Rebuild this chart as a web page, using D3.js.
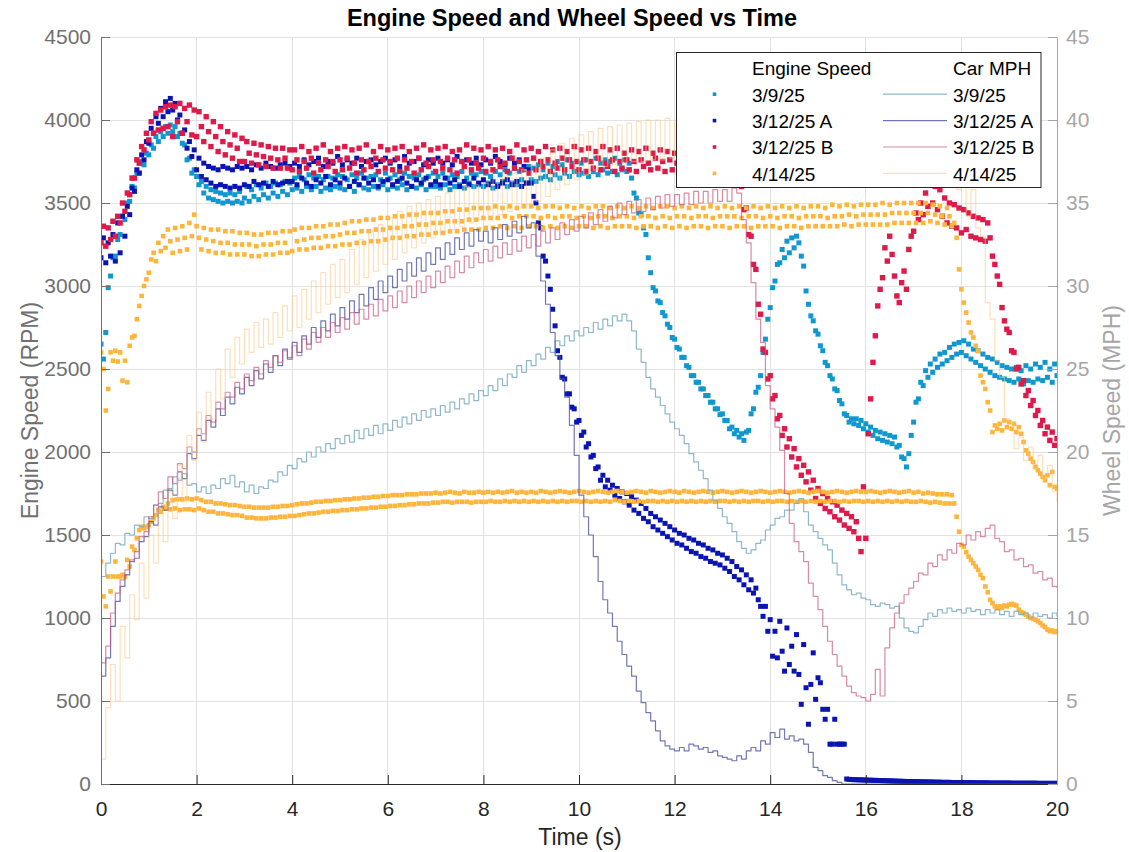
<!DOCTYPE html>
<html>
<head>
<meta charset="utf-8">
<script src="https://cdn.jsdelivr.net/npm/d3@7"></script>
<style>
  body { margin: 0; background: #ffffff; }
  svg { display: block; font-family: "Liberation Sans", Arial, Helvetica, sans-serif; }
</style>
</head>
<body>
<svg id="chart" width="1129" height="852"></svg>
<script>
// ---- sampling ----
const engineStep = 0.05;   // s between engine speed samples
const wheelStep = 0.1;     // s between wheel speed samples

// ---- axis ticks ----
const timeTicks = [0, 2, 4, 6, 8, 10, 12, 14, 16, 18, 20];
const rpmTicks = [0, 500, 1000, 1500, 2000, 2500, 3000, 3500, 4000, 4500];
const mphTicks = [0, 5, 10, 15, 20, 25, 30, 35, 40, 45];

// ---- run names and legend headers ----
const runNames = ["3/9/25", "3/12/25 A", "3/12/25 B", "4/14/25"];
const legendHeaders = ["Engine Speed", "Car MPH"];

// ---- engine speed (RPM), one value per 0.05 s, one line per second ----
const rpm0309 = [
2650,2560,2720,2990,3060,3170,3180,3280,3310,3420,3400,3500,3510,3600,3590,3680,3680,3750,3730,3800,
3790,3850,3830,3900,3870,3930,3900,3960,3920,3970,3930,3960,3900,3920,3860,3850,3760,3770,3680,3700,
3660,3610,3630,3560,3600,3530,3580,3520,3570,3510,3560,3500,3550,3510,3560,3500,3550,3510,3570,3500,
3530,3600,3510,3580,3540,3610,3520,3590,3550,3620,3530,3600,3560,3620,3540,3610,3570,3630,3550,3620,
3580,3650,3590,3660,3570,3640,3600,3670,3580,3650,3600,3660,3570,3640,3590,3660,3580,3650,3600,3670,
3590,3660,3580,3640,3600,3670,3570,3650,3610,3680,3590,3650,3580,3660,3600,3670,3590,3640,3610,3680,
3580,3650,3600,3670,3590,3640,3610,3680,3580,3660,3600,3650,3590,3670,3610,3640,3580,3660,3600,3680,
3600,3660,3590,3680,3610,3650,3580,3670,3600,3660,3610,3690,3590,3650,3620,3680,3600,3670,3610,3690,
3600,3680,3620,3660,3590,3690,3610,3670,3630,3700,3600,3680,3620,3710,3610,3690,3640,3700,3620,3720,
3640,3710,3630,3730,3650,3700,3660,3740,3640,3720,3670,3750,3650,3730,3680,3760,3660,3740,3690,3750,
3670,3740,3680,3760,3660,3750,3690,3770,3670,3740,3700,3760,3680,3750,3690,3770,3670,3740,3700,3760,
3690,3740,3650,3560,3530,3440,3430,3350,3310,3170,3080,2990,2970,2910,2900,2840,2820,2770,2750,2690,
2680,2630,2620,2570,2570,2520,2510,2460,2460,2420,2420,2380,2380,2340,2340,2300,2300,2260,2260,2225,
2230,2190,2190,2140,2150,2110,2130,2090,2110,2070,2120,2130,2230,2260,2360,2390,2460,2600,2680,2800,
2870,2990,3030,3130,3140,3220,3170,3270,3200,3290,3230,3300,3260,3180,3120,2970,2890,2820,2790,2730,
2710,2640,2610,2540,2520,2460,2440,2380,2370,2310,2290,2230,2220,2180,2200,2170,2200,2160,2190,2140,
2170,2120,2150,2100,2130,2080,2120,2070,2110,2060,2100,2050,2090,2030,2040,1970,1960,1910,1990,2100,
2180,2300,2320,2420,2400,2490,2450,2530,2480,2560,2510,2590,2530,2600,2550,2630,2570,2650,2590,2660,
2600,2670,2580,2650,2560,2620,2540,2610,2520,2590,2500,2570,2480,2560,2460,2540,2450,2520,2440,2510,
2430,2500,2420,2510,2440,2490,2410,2520,2430,2500,2420,2530,2440,2510,2430,2540,2450,2500,2420,2530,2460
];

const rpm0312A = [
3170,3290,3140,3260,3180,3310,3150,3380,3200,3420,3300,3480,3430,3590,3570,3700,3680,3790,3760,3870,
3860,3950,3920,4020,3980,4070,4020,4110,4050,4130,4060,4100,4000,4030,3920,3940,3830,3870,3780,3820,
3700,3770,3660,3740,3640,3720,3620,3710,3600,3700,3610,3720,3600,3710,3590,3700,3600,3720,3590,3710,
3610,3720,3600,3700,3630,3730,3610,3710,3620,3740,3600,3720,3630,3710,3610,3730,3620,3740,3630,3720,
3630,3740,3610,3720,3650,3760,3620,3730,3600,3750,3640,3770,3620,3720,3660,3750,3610,3740,3640,3780,
3620,3730,3650,3760,3600,3740,3630,3770,3610,3720,3650,3750,3620,3760,3640,3730,3600,3750,3630,3770,
3640,3740,3610,3760,3630,3720,3650,3780,3620,3740,3600,3750,3640,3770,3620,3730,3650,3760,3610,3740,
3630,3770,3610,3740,3650,3760,3620,3730,3640,3780,3600,3750,3630,3760,3610,3740,3650,3770,3620,3730,
3640,3760,3610,3740,3630,3780,3600,3750,3620,3730,3640,3770,3610,3740,3630,3760,3600,3720,3620,3700,
3620,3540,3500,3380,3350,3180,3150,3060,2980,2860,2760,2610,2570,2450,2440,2350,2350,2270,2260,2180,
2190,2100,2120,2030,2050,1970,1980,1900,1910,1830,1860,1790,1830,1770,1800,1740,1780,1720,1760,1700,
1750,1680,1730,1650,1710,1630,1690,1600,1660,1580,1630,1550,1610,1530,1590,1510,1570,1490,1550,1470,
1530,1450,1510,1440,1500,1420,1480,1400,1470,1390,1450,1370,1440,1360,1420,1340,1410,1330,1390,1320,
1380,1300,1360,1280,1340,1250,1310,1230,1290,1200,1260,1170,1230,1150,1180,1110,1070,1010,1070,920,
990,770,920,760,980,800,680,940,720,830,680,900,660,480,840,580,360,600,790,510,
640,610,450,390,450,240,240,390,240,240,240,240,30,28,27,26,26,25,25,24,
24,23,23,22,22,21,21,20,20,19,19,18,18,17,17,16,16,15,15,15,
14,14,14,13,13,13,12,12,12,11,11,11,10,10,10,10,9,9,9,9,
9,8,8,8,8,8,7,7,7,7,7,7,6,6,6,6,6,6,6,6,
6,5,5,5,5,5,5,5,5,5,5,5,4,4,4,4,4,4,4,4,4
];

const rpm0312B = [
3260,3360,3240,3350,3280,3390,3300,3420,3380,3500,3450,3560,3550,3650,3650,3760,3740,3840,3820,3920,
3880,3990,3920,4040,3940,4060,3950,4080,3960,4090,3900,4080,3990,4100,3920,4070,3990,4090,3910,4060,
3900,4050,3960,3870,4020,3930,3840,3990,3900,3810,3960,3870,3790,3930,3850,3770,3910,3830,3750,3890,
3750,3870,3800,3740,3860,3790,3730,3850,3780,3720,3840,3770,3710,3830,3760,3710,3830,3770,3710,3820,
3700,3820,3760,3690,3840,3750,3710,3810,3770,3680,3830,3740,3700,3850,3760,3720,3810,3750,3690,3830,
3760,3700,3840,3770,3710,3820,3740,3680,3830,3760,3700,3850,3750,3720,3810,3770,3690,3840,3760,3710,
3820,3750,3700,3830,3770,3690,3840,3760,3710,3810,3750,3680,3830,3770,3700,3850,3740,3720,3820,3760,
3690,3830,3750,3710,3840,3770,3700,3810,3760,3680,3820,3750,3720,3850,3760,3700,3830,3740,3710,3820,
3770,3690,3840,3750,3700,3820,3760,3720,3830,3740,3690,3810,3770,3710,3850,3750,3700,3820,3760,3680,
3830,3770,3700,3810,3750,3720,3840,3760,3690,3820,3740,3710,3830,3770,3700,3810,3760,3720,3840,3750,
3700,3820,3760,3690,3830,3750,3710,3810,3770,3700,3840,3740,3720,3820,3760,3690,3830,3750,3710,3800,
3760,3700,3820,3750,3690,3810,3760,3720,3830,3740,3700,3800,3770,3710,3820,3750,3690,3810,3760,3700,
3800,3740,3690,3810,3760,3700,3790,3750,3710,3820,3740,3690,3800,3760,3700,3790,3750,3710,3800,3740,
3800,3700,3770,3690,3740,3680,3720,3610,3600,3460,3470,3310,3300,3130,3100,2890,2830,2620,2600,2440,
2460,2320,2340,2200,2220,2100,2140,2030,2080,1970,2020,1910,1960,1860,1920,1820,1880,1770,1830,1720,
1780,1690,1750,1660,1720,1640,1700,1610,1680,1590,1650,1560,1630,1540,1610,1520,1580,1480,1400,1790,
1480,2110,2320,2540,2700,2880,2980,3050,3230,3150,3300,3190,3060,2940,2900,3020,3090,2980,3220,3300,
3330,3440,3400,3500,3430,3560,3480,3610,3500,3600,3460,3580,3420,3530,3380,3500,3360,3490,3350,3470,
3320,3460,3340,3440,3300,3420,3290,3410,3280,3400,3270,3380,3290,3180,3130,3060,3010,2870,2790,2740,
2720,2610,2600,2500,2510,2410,2430,2340,2370,2280,2310,2220,2250,2160,2190,2110,2150,2070,2120,2040,2080
];

// 4/14/25 tach reads on two levels; upper and lower tracks
const rpm0414hi = [
2600,2500,2250,2380,2600,2550,2610,2545,2600,2430,2550,2420,2640,2690,2700,2800,2880,2940,3000,3040,
3080,3160,3200,3150,3260,3210,3300,3230,3340,3270,3200,3350,3280,3210,3360,3290,3220,3380,3300,3430,
3360,3290,3220,3350,3280,3210,3340,3270,3200,3340,3260,3200,3330,3260,3190,3330,3250,3190,3320,3250,
3190,3320,3250,3180,3310,3240,3180,3310,3250,3190,3320,3250,3190,3320,3260,3200,3330,3260,3200,3330,
3210,3340,3270,3220,3350,3280,3220,3350,3290,3230,3360,3290,3230,3360,3300,3240,3370,3300,3240,3370,
3310,3250,3380,3320,3250,3390,3320,3260,3390,3330,3260,3400,3330,3270,3400,3340,3270,3410,3340,3280,
3410,3350,3290,3420,3350,3290,3420,3360,3300,3430,3360,3300,3430,3370,3310,3440,3370,3310,3440,3380,
3320,3440,3380,3320,3450,3390,3330,3450,3390,3330,3460,3390,3340,3460,3400,3340,3470,3400,3340,3470,
3410,3350,3470,3410,3350,3480,3410,3360,3470,3420,3350,3480,3410,3360,3470,3420,3350,3480,3420,3360,
3480,3420,3360,3470,3410,3350,3480,3420,3360,3480,3410,3350,3470,3420,3360,3480,3420,3350,3470,3410,
3360,3480,3420,3360,3470,3410,3350,3480,3420,3360,3480,3420,3350,3470,3410,3360,3480,3420,3360,3470,
3420,3360,3480,3410,3350,3470,3420,3360,3480,3420,3360,3470,3410,3350,3480,3420,3360,3480,3410,3350,
3470,3420,3360,3480,3420,3350,3470,3410,3360,3480,3420,3360,3470,3420,3350,3480,3410,3360,3470,3420,
3360,3480,3420,3350,3470,3420,3360,3480,3410,3360,3470,3420,3350,3480,3420,3360,3470,3410,3360,3480,
3420,3360,3470,3410,3350,3480,3420,3360,3470,3420,3360,3480,3410,3350,3470,3420,3360,3480,3420,3360,
3480,3420,3360,3470,3410,3360,3490,3420,3360,3480,3420,3370,3490,3430,3360,3480,3420,3370,3490,3430,
3370,3490,3430,3370,3490,3430,3370,3500,3430,3370,3490,3440,3380,3500,3440,3380,3500,3440,3380,3500,
3440,3380,3500,3440,3380,3500,3440,3390,3490,3430,3380,3480,3420,3370,3470,3420,3360,3380,3290,3100,
2980,2900,2840,2780,2720,2690,2640,2610,2460,2420,2380,2300,2250,2120,2160,2140,2170,2130,2190,2150,
2180,2140,2170,2120,2150,2110,2060,2010,1990,1960,1940,1910,1890,1870,1850,1830,1860,1800,1880,1790,1780
];

const rpm0414lo = [
1340,1130,1070,1250,1160,1250,1340,1250,1250,1260,1250,1350,1310,1430,1410,1480,1530,1550,1540,1550,
1560,1580,1600,1620,1650,1640,1670,1660,1690,1655,1710,1660,1715,1650,1715,1655,1720,1655,1715,1650,
1720,1660,1710,1650,1700,1640,1700,1640,1690,1630,1690,1630,1685,1625,1680,1620,1680,1620,1675,1615,
1670,1605,1670,1605,1665,1600,1665,1600,1665,1600,1665,1605,1670,1605,1670,1610,1675,1610,1675,1615,
1680,1615,1685,1620,1690,1625,1690,1630,1695,1630,1700,1635,1700,1640,1705,1640,1705,1645,1710,1645,
1710,1650,1715,1650,1715,1655,1720,1655,1720,1660,1725,1660,1725,1665,1730,1665,1730,1670,1735,1670,
1735,1675,1740,1675,1740,1680,1740,1680,1745,1685,1745,1685,1745,1690,1750,1690,1750,1690,1750,1695,
1755,1695,1750,1700,1755,1700,1760,1695,1755,1700,1750,1700,1760,1700,1755,1695,1755,1700,1760,1700,
1755,1700,1760,1705,1755,1700,1760,1700,1755,1705,1760,1700,1765,1705,1755,1700,1760,1705,1755,1700,
1760,1705,1755,1700,1765,1705,1760,1700,1755,1705,1760,1700,1765,1705,1760,1700,1755,1705,1760,1705,
1765,1700,1760,1705,1755,1700,1760,1705,1765,1700,1760,1705,1755,1700,1760,1710,1765,1705,1760,1700,
1755,1705,1760,1700,1765,1705,1760,1700,1755,1705,1765,1705,1760,1700,1755,1705,1760,1700,1765,1705,
1760,1700,1755,1705,1765,1700,1760,1705,1755,1700,1760,1705,1765,1700,1760,1705,1755,1700,1760,1705,
1765,1705,1760,1700,1755,1705,1760,1700,1765,1705,1760,1700,1755,1705,1760,1705,1765,1700,1760,1705,
1755,1700,1760,1705,1765,1705,1760,1700,1755,1705,1760,1700,1765,1705,1760,1700,1755,1705,1760,1700,
1765,1705,1760,1700,1755,1705,1760,1705,1765,1700,1760,1705,1755,1700,1760,1705,1765,1705,1760,1700,
1760,1705,1765,1700,1760,1705,1755,1700,1760,1705,1765,1700,1760,1705,1755,1700,1760,1705,1765,1700,
1755,1700,1760,1705,1750,1700,1755,1695,1750,1700,1745,1695,1745,1690,1745,1690,1740,1690,1610,1520,
1440,1430,1396,1370,1350,1330,1310,1290,1260,1240,1190,1155,1110,1090,1070,1060,1070,1060,1075,1070,
1080,1085,1080,1075,1050,1035,1030,1020,1010,1000,995,990,980,970,955,945,930,920,925,915,920
];

// ---- wheel speed (MPH), one value per 0.1 s, one line per second ----
const mph0309 = [
12.5,13.3,13.9,14.5,14.4,15.1,15.0,15.6,15.5,16.1,
16.0,16.8,16.9,17.7,17.8,18.5,18.3,18.7,18.0,18.1,
17.6,17.9,17.5,18.0,17.8,18.4,18.1,18.6,17.9,18.2,
17.6,18.0,17.5,17.9,17.8,18.3,18.2,18.8,18.6,19.2,
19.0,19.6,19.4,20.0,19.7,20.3,20.0,20.5,20.2,20.8,
20.5,21.0,20.6,21.3,20.8,21.4,21.0,21.6,21.1,21.7,
21.3,21.9,21.5,22.1,21.7,22.3,21.9,22.5,22.1,22.6,
22.2,22.8,22.4,23.0,22.6,23.2,22.9,23.5,23.1,23.7,
23.4,24.0,23.7,24.4,24.0,24.7,24.5,25.2,24.8,25.5,
25.2,25.9,25.6,26.3,26.0,26.7,26.4,27.0,26.7,27.3,
27.0,27.5,27.2,27.8,27.4,28.0,27.6,28.2,27.9,28.3,
27.9,27.3,26.2,25.4,24.5,23.8,23.3,22.8,22.3,21.8,
21.4,21.0,20.5,19.9,19.4,18.9,18.4,17.7,17.1,16.6,
16.1,15.7,15.2,14.6,14.2,13.9,14.1,14.5,14.7,15.3,
15.6,16.0,16.1,16.5,16.5,16.9,17.2,16.4,15.6,15.2,
14.8,14.4,14.1,13.3,12.6,12.0,11.7,11.4,11.5,11.2,
11.1,10.8,10.7,10.9,10.8,10.6,10.7,10.0,9.4,9.2,
9.1,9.5,9.9,10.3,10.1,10.5,10.3,10.6,10.4,10.5,
10.3,10.6,10.4,10.5,10.2,10.5,10.3,10.5,10.2,10.4,
10.1,10.4,10.2,10.3,10.0,10.3,10.1,10.2,10.0,10.3,10.1
];

const mph0312A = [
6.5,7.6,9.5,11.0,11.9,12.6,13.4,13.6,14.6,14.9,
15.8,15.6,16.7,16.5,17.7,17.4,18.8,18.4,19.9,19.6,
21.0,20.7,21.9,21.5,22.6,22.2,23.3,22.9,23.9,23.5,
24.5,24.0,24.9,24.4,25.3,24.8,25.8,25.2,26.2,25.6,
26.6,26.0,27.0,26.5,27.5,26.9,27.9,27.3,28.3,27.6,
28.7,28.0,29.1,28.4,29.5,28.8,29.9,29.2,30.3,29.6,
30.6,29.9,31.0,30.3,31.4,30.6,31.7,30.9,32.0,31.3,
32.3,31.6,32.6,31.9,32.9,32.2,33.2,32.4,33.4,32.7,
33.3,32.6,33.5,32.8,33.7,33.0,33.9,33.2,34.2,33.5,
33.8,31.8,30.3,28.9,27.2,25.8,24.4,23.3,21.6,19.8,
17.4,16.1,15.0,13.7,12.2,11.1,10.3,9.5,8.6,7.8,
7.1,6.5,5.6,4.9,4.3,3.8,3.2,2.6,2.3,2.1,
2.0,2.2,2.0,2.4,2.3,2.1,2.2,1.9,2.0,1.7,
1.6,1.5,1.4,1.7,1.5,2.0,2.2,2.0,2.6,2.4,
3.1,2.8,3.3,2.7,2.9,2.6,2.7,2.4,1.9,1.0,
0.8,0.5,0.4,0.2,0.1,0,0,0,0,0,
0,0,0,0,0,0,0,0,0,0,
0,0,0,0,0,0,0,0,0,0,
0,0,0,0,0,0,0,0,0,0,
0,0,0,0,0,0,0,0,0,0,0
];

const mph0312B = [
7.3,8.3,10.3,11.5,12.3,12.9,13.5,14.0,14.9,15.2,
16.1,16.8,17.6,17.2,18.5,18.1,19.3,19.0,20.3,20.0,
21.4,21.1,22.2,21.8,23.0,22.6,23.6,23.3,24.2,23.8,
24.7,24.3,25.1,24.7,25.5,25.1,25.8,25.4,26.1,25.7,
26.4,25.8,26.8,26.2,27.2,26.6,27.5,26.9,27.8,27.2,
28.1,27.4,28.4,27.7,28.6,28.0,28.9,28.2,29.2,28.5,
29.4,28.7,29.7,29.0,30.0,29.3,30.3,29.6,30.6,29.9,
30.9,30.2,31.2,30.5,31.5,30.8,31.8,31.1,32.0,31.4,
32.2,31.5,32.4,31.7,32.6,31.9,32.8,32.1,33.0,32.3,
33.1,32.4,33.3,32.6,33.5,32.8,33.8,33.1,34.0,33.3,
34.2,33.5,34.4,33.7,34.6,33.9,34.8,34.1,35.0,34.3,
35.1,34.4,35.2,34.5,35.3,34.6,35.4,34.7,35.5,34.8,
35.5,34.9,35.6,34.9,35.7,35.0,35.7,35.0,35.8,35.1,
35.8,35.1,35.9,35.6,34.0,32.6,30.2,28.0,26.6,24.0,
22.6,21.5,20.1,17.5,15.7,14.6,14.0,13.4,12.1,11.3,
10.5,9.5,8.6,7.8,7.1,6.5,5.9,5.5,5.3,5.2,
5.0,5.4,6.9,5.3,8.2,9.4,10.3,10.9,11.4,11.8,
12.2,12.7,12.6,13.3,13.1,13.8,13.5,14.1,13.9,14.5,
14.4,15.0,14.7,15.2,14.9,15.4,15.6,14.8,14.6,14.0,
14.1,13.5,13.6,13.1,13.2,12.7,12.8,12.3,12.4,11.9,11.8
];

const mph0414 = [
1.5,4.6,7.2,5.0,9.5,7.6,11.4,9.9,13.3,11.2,
15.0,13.3,16.6,14.6,17.6,16.0,19.2,17.0,21.0,19.5,
22.4,20.6,23.6,22.0,25.0,23.2,26.2,24.5,26.9,25.3,
27.4,26.0,27.8,26.3,28.0,26.5,28.4,26.9,28.8,27.3,
29.4,27.5,29.8,28.0,30.3,28.4,30.8,28.9,31.3,29.3,
31.6,29.6,32.2,30.1,32.8,30.5,33.3,30.9,33.7,31.3,
34.1,31.6,34.5,32.0,34.8,32.3,35.0,32.6,35.2,32.9,
35.4,33.1,35.6,33.4,35.8,33.6,36.0,33.8,36.1,34.0,
36.2,34.1,36.4,34.3,36.6,34.5,36.8,34.7,37.0,34.9,
37.3,35.1,37.7,35.4,38.2,35.8,38.6,36.1,38.9,36.4,
39.1,36.7,39.3,37.0,39.5,37.2,39.6,37.3,39.7,37.4,
39.8,37.5,39.9,37.5,40.0,37.6,40.0,37.6,40.1,37.7,
40.0,37.8,40.1,37.8,40.1,37.9,40.2,37.9,40.2,38.0,
40.2,38.0,40.2,38.0,40.3,38.1,40.3,38.1,40.3,38.1,
40.3,38.1,40.3,38.2,40.4,38.2,40.4,38.2,40.4,38.2,
40.4,38.2,40.4,38.2,40.3,38.1,40.3,38.1,40.3,38.1,
40.2,38.0,40.2,38.0,40.1,37.9,40.0,37.8,39.9,37.7,
39.8,37.5,39.6,37.3,39.3,37.0,38.8,36.5,38.2,35.8,
36.5,34.2,35.8,33.5,33.0,29.0,28.0,25.5,24.5,22.0,
21.8,20.2,20.9,19.5,20.3,19.0,19.8,18.4,19.2,17.6,17.0
];

// ---- series styling ----
const engineSeries = [
  { name: runNames[0], color: "#0f97cf", size: 5.0, tracks: [rpm0309] },
  { name: runNames[1], color: "#0a14b2", size: 5.0, tracks: [rpm0312A] },
  { name: runNames[2], color: "#de1a4a", size: 5.4, tracks: [rpm0312B] },
  { name: runNames[3], color: "#ffb53c", size: 4.6, tracks: [rpm0414hi, rpm0414lo] }
];
const wheelSeries = [
  { name: runNames[0], color: "#7aabc1", opacity: 0.85, values: mph0309 },
  { name: runNames[1], color: "#4f55a0", opacity: 0.8, values: mph0312A },
  { name: runNames[2], color: "#c9587e", opacity: 0.7, values: mph0312B },
  { name: runNames[3], color: "#fcc783", opacity: 0.55, values: mph0414 }
];

// ---- layout ----
const plot = { left: 101, right: 1057, top: 37, bottom: 784 };
const FONT = '"Liberation Sans", Arial, Helvetica, sans-serif';

const x = d3.scaleLinear().domain([0, 20]).range([plot.left, plot.right]);
const yL = d3.scaleLinear().domain([0, 4500]).range([plot.bottom, plot.top]);
const yR = d3.scaleLinear().domain([0, 45]).range([plot.bottom, plot.top]);

const svg = d3.select("#chart");
svg.append("rect").attr("width", 1129).attr("height", 852).attr("fill", "#ffffff");

svg.append("defs").append("clipPath").attr("id", "plotClip")
  .append("rect")
  .attr("x", plot.left).attr("y", plot.top)
  .attr("width", plot.right - plot.left).attr("height", plot.bottom - plot.top);

// grid
const grid = svg.append("g").attr("stroke", "#e2e2e2").attr("stroke-width", 1).attr("shape-rendering", "crispEdges");
timeTicks.forEach(t => {
  grid.append("line").attr("x1", x(t)).attr("x2", x(t)).attr("y1", plot.top).attr("y2", plot.bottom);
});
rpmTicks.forEach(v => {
  grid.append("line").attr("x1", plot.left).attr("x2", plot.right).attr("y1", yL(v)).attr("y2", yL(v));
});

// engine speed markers
const dotLayer = svg.append("g").attr("clip-path", "url(#plotClip)");
engineSeries.forEach(s => {
  const g = dotLayer.append("g").attr("fill", s.color);
  const sz = s.size;
  s.tracks.forEach(track => {
    g.selectAll(null)
      .data(track)
      .enter()
      .append("rect")
      .attr("x", (d, i) => x(i * engineStep) - sz / 2)
      .attr("y", d => yL(d) - sz / 2)
      .attr("width", sz)
      .attr("height", sz);
  });
});

// wheel speed lines (right axis)
const wheelLine = d3.line()
  .x((d, i) => x(i * wheelStep))
  .y(d => yR(d))
  .curve(d3.curveStepAfter);
const lineLayer = svg.append("g").attr("clip-path", "url(#plotClip)");
wheelSeries.forEach(s => {
  lineLayer.append("path")
    .datum(s.values)
    .attr("d", wheelLine)
    .attr("fill", "none")
    .attr("stroke", s.color)
    .attr("stroke-opacity", s.opacity)
    .attr("stroke-width", 1.2)
    .attr("stroke-linejoin", "round");
});

// axes
function styleAxis(g, color, size) {
  g.attr("font-family", FONT).attr("font-size", size).attr("color", color);
  g.selectAll(".domain").attr("stroke", color);
  g.selectAll(".tick line").attr("stroke", color);
  g.selectAll(".tick text").attr("fill", color);
}

const xAxis = svg.append("g")
  .attr("transform", `translate(0,${plot.bottom})`)
  .call(d3.axisBottom(x).tickValues(timeTicks).tickFormat(d3.format("d"))
    .tickSizeInner(-9).tickSizeOuter(0).tickPadding(17));
styleAxis(xAxis, "#262626", 21);

const leftAxis = svg.append("g")
  .attr("transform", `translate(${plot.left},0)`)
  .call(d3.axisLeft(yL).tickValues(rpmTicks).tickFormat(d3.format("d"))
    .tickSizeInner(-9).tickSizeOuter(0).tickPadding(10));
styleAxis(leftAxis, "#707070", 21);

const rightAxis = svg.append("g")
  .attr("transform", `translate(${plot.right},0)`)
  .call(d3.axisRight(yR).tickValues(mphTicks).tickFormat(d3.format("d"))
    .tickSizeInner(-9).tickSizeOuter(0).tickPadding(9));
styleAxis(rightAxis, "#a6a6a6", 21);

// titles
svg.append("text")
  .attr("x", 572).attr("y", 26)
  .attr("text-anchor", "middle")
  .attr("font-family", FONT).attr("font-size", 23.5).attr("font-weight", "bold")
  .attr("fill", "#000000")
  .text("Engine Speed and Wheel Speed vs Time");

svg.append("text")
  .attr("x", 580).attr("y", 845)
  .attr("text-anchor", "middle")
  .attr("font-family", FONT).attr("font-size", 23)
  .attr("fill", "#262626")
  .text("Time (s)");

svg.append("text")
  .attr("transform", `translate(38,${(plot.top + plot.bottom) / 2}) rotate(-90)`)
  .attr("text-anchor", "middle")
  .attr("font-family", FONT).attr("font-size", 23)
  .attr("fill", "#707070")
  .text("Engine Speed (RPM)");

svg.append("text")
  .attr("transform", `translate(1120,${(plot.top + plot.bottom) / 2}) rotate(-90)`)
  .attr("text-anchor", "middle")
  .attr("font-family", FONT).attr("font-size", 23)
  .attr("fill", "#a6a6a6")
  .text("Wheel Speed (MPH)");

// legend
const legend = svg.append("g").attr("font-family", FONT).attr("font-size", 19).attr("fill", "#000000");
legend.append("rect")
  .attr("x", 676.5).attr("y", 52.5).attr("width", 364.5).attr("height", 135)
  .attr("fill", "#ffffff").attr("stroke", "#262626").attr("stroke-width", 1);

const colDot = 714.5, colText1 = 752, colLine1 = 883, colLine2 = 947, colText2 = 953;
legend.append("text").attr("x", colText1).attr("y", 75).text(legendHeaders[0]);
legend.append("text").attr("x", colText2).attr("y", 75).text(legendHeaders[1]);

const rowBase = 101.5, rowStep = 26.4;
engineSeries.forEach((s, i) => {
  const yb = rowBase + i * rowStep;
  const yc = yb - 7.3;
  legend.append("rect")
    .attr("x", colDot - 1.8).attr("y", yc - 1.8).attr("width", 3.6).attr("height", 3.6)
    .attr("fill", s.color);
  legend.append("text").attr("x", colText1).attr("y", yb).text(s.name);
});
wheelSeries.forEach((s, i) => {
  const yb = rowBase + i * rowStep;
  const yc = yb - 7.3;
  legend.append("line")
    .attr("x1", colLine1).attr("x2", colLine2).attr("y1", yc).attr("y2", yc)
    .attr("stroke", s.color).attr("stroke-opacity", s.opacity).attr("stroke-width", 1.2);
  legend.append("text").attr("x", colText2).attr("y", yb).text(s.name);
});
</script>
</body>
</html>
